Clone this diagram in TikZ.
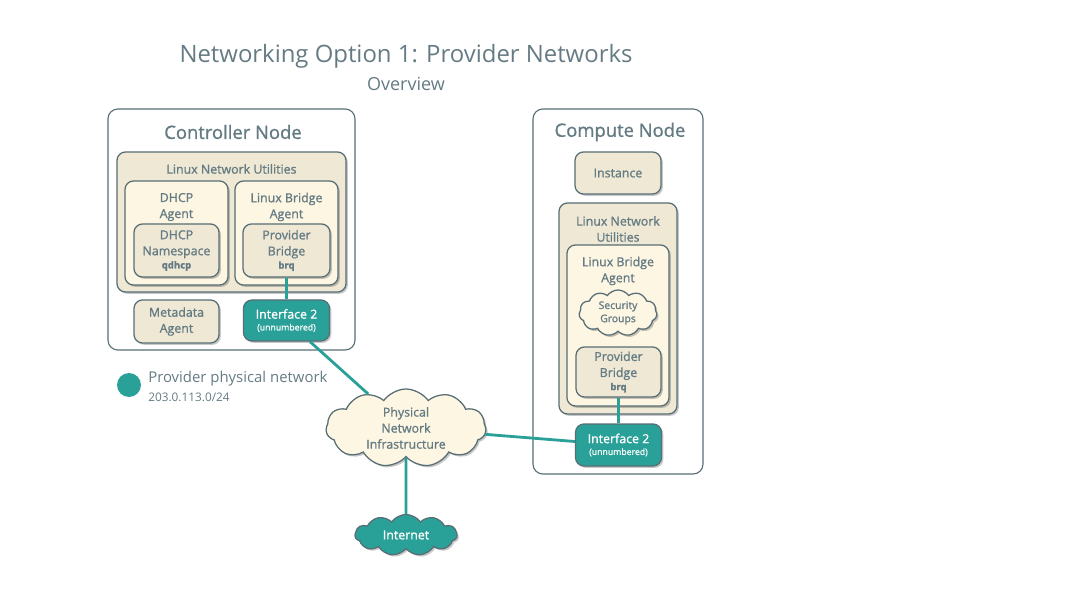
\documentclass[tikz,border=0pt]{standalone}
\usepackage{fontspec}
\setmainfont{Open Sans}
\newfontfamily\semifont{Open Sans}[FakeBold=1.1]
\usetikzlibrary{positioning,shapes.symbols,shadows}
\definecolor{edgegrey}{HTML}{586E75}
\definecolor{textgrey}{HTML}{657B83}
\definecolor{boxbeige}{HTML}{EEE8D5}
\definecolor{boxcream}{HTML}{FDF6E3}
\definecolor{netteal}{HTML}{2AA198}
\newcommand{\lblfont}{\semifont\fontsize{8.8}{11.4}\selectfont}
\newcommand{\subfont}{\fontsize{6.8}{7}\selectfont\bfseries}
\newcommand{\unnum}{\fontsize{6.2}{7}\selectfont}

\begin{document}
\begin{tikzpicture}[
  x=0.025cm, y=-0.025cm,
  sz/.style 2 args={minimum width=#1*0.025cm, minimum height=#2*0.025cm},
  host/.style={draw=edgegrey, fill=white, line width=0.8pt, rounded corners=7pt, inner sep=0pt},
  group/.style={draw=edgegrey, fill=boxbeige, line width=0.9pt, rounded corners=6pt, inner sep=0pt,
                drop shadow={shadow xshift=1.3pt, shadow yshift=-1.3pt, opacity=0.22, fill=black}},
  agent/.style={group, fill=boxcream},
  svc/.style={group, align=center, text=textgrey, font=\lblfont},
  iface/.style={svc, fill=netteal, text=white},
  cloudy/.style={cloud, cloud puffs=11, cloud puff arc=110, aspect=2, draw=edgegrey, line width=0.9pt,
                 fill=boxcream, inner sep=0pt, align=center, text=textgrey, font=\lblfont,
                 drop shadow={shadow xshift=1.3pt, shadow yshift=-1.3pt, opacity=0.22, fill=black}},
  hdr/.style={text=textgrey, align=center, font=\lblfont},
  hosthdr/.style={text=textgrey, font=\semifont\fontsize{13.1}{15}\selectfont},
  link/.style={draw=netteal, line width=2pt},
]
\useasboundingbox (0,0) rectangle (1087,597);

% titles
\node[text=textgrey, font=\fontsize{17}{19}\selectfont] (title) at (406,56) {Networking Option 1: Provider Networks};
\node[text=textgrey, font=\fontsize{12.8}{14}\selectfont] (subtitle) at (406,84) {Overview};

% controller node
\node[host, sz={247}{241}] (ctrl) at (231.5,229.5) {};
\node[hosthdr] (ctrlhdr) at (233,132) {Controller Node};
\node[group, sz={229}{140}] (lnuC) at (231.5,222) {};
\node[hdr] (lnuChdr) at (231.5,169) {Linux Network Utilities};
\node[agent, sz={103}{104}] (dhcpA) at (176.5,233) {};
\node[hdr] (dhcpAhdr) at (176.5,207) {DHCP\\Agent};
\node[svc, sz={85}{53}] (dhcpNS) at (176.5,250.5) {DHCP\\Namespace\\[-2pt]{\subfont qdhcp}};
\node[agent, sz={103}{104}] (lbaC) at (286.5,233) {};
\node[hdr] (lbaChdr) at (286.5,207) {Linux Bridge\\Agent};
\node[svc, sz={87}{53}] (pbC) at (286.5,250.5) {Provider\\Bridge\\[-2pt]{\subfont brq}};
\node[svc, sz={85}{43}] (meta) at (176.5,321.5) {Metadata\\Agent};
\node[iface, sz={86}{41}] (ifC) at (286.5,320.5) {Interface 2\\[-3pt]{\unnum(unnumbered)}};

% compute node
\node[host, sz={170}{365}] (comp) at (618,291.5) {};
\node[hosthdr] (comphdr) at (620,132) {Compute Node};
\node[svc, sz={86}{42}] (inst) at (618,173) {Instance};
\node[group, sz={118}{211}] (lnuK) at (618,308.5) {};
\node[hdr] (lnuKhdr) at (618,229) {Linux Network\\Utilities};
\node[agent, sz={102}{161}] (lbaK) at (618,325.5) {};
\node[hdr] (lbaKhdr) at (618,271) {Linux Bridge\\Agent};
\node[cloudy, sz={78}{46}, font=\semifont\fontsize{7.4}{9.4}\selectfont] (secgrp) at (618,313) {Security\\Groups};
\node[svc, sz={85}{50}] (pbK) at (618.5,372) {Provider\\Bridge\\[-2pt]{\subfont brq}};
\node[iface, sz={86}{42}] (ifK) at (618.5,445) {Interface 2\\[-3pt]{\unnum(unnumbered)}};

% physical network
\node[cloudy, sz={160}{78}] (phys) at (406,428) {Physical\\Network\\Infrastructure};
\node[cloudy, sz={102}{40}, fill=netteal, text=white] (inet) at (406,535) {Internet};

% legend
\node[circle, fill=netteal, minimum size=24*0.025cm, inner sep=0pt] (legdot) at (129,385) {};
\node[anchor=west, text=textgrey, font=\fontsize{10.6}{12}\selectfont, inner sep=0pt] (legname) at (148,379) {Provider physical network};
\node[anchor=west, text=textgrey, font=\fontsize{8.4}{9}\selectfont, inner sep=0pt] (legnet) at (148,397) {203.0.113.0/24};

% links
\draw[link] (pbC) -- (ifC);
\draw[link] (pbK) -- (ifK);
\draw[link] (ifC) -- (phys);
\draw[link] (phys) -- (ifK);
\draw[link] (phys) -- (inet);
\end{tikzpicture}
\end{document}
